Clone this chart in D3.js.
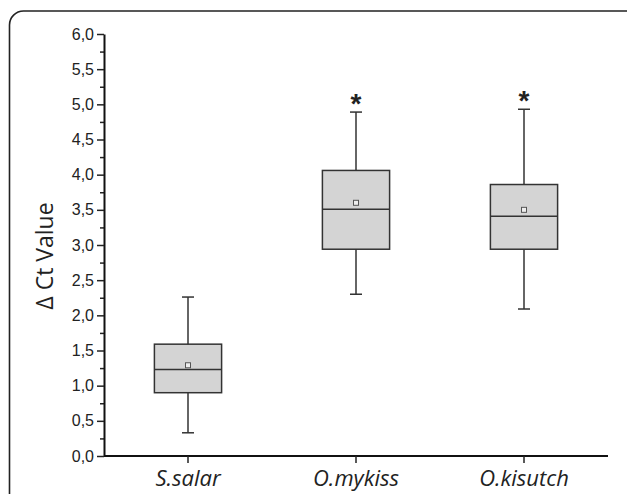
<!DOCTYPE html>
<html>
<head>
<meta charset="utf-8">
<script src="https://cdn.jsdelivr.net/npm/d3@7"></script>
<style>
  body { margin: 0; background: #fff; }
</style>
</head>
<body>
<svg width="627" height="494"></svg>
<script>
// data
var species  = ["S.salar", "O.mykiss", "O.kisutch"];
var whiskLo  = [0.33, 2.30, 2.09];
var q1       = [0.90, 2.94, 2.94];
var median   = [1.23, 3.51, 3.41];
var q3       = [1.59, 4.06, 3.86];
var whiskHi  = [2.26, 4.89, 4.93];
var means    = [1.29, 3.60, 3.50];
var signif   = [false, true, true];
var yTicks   = [0, 0.5, 1, 1.5, 2, 2.5, 3, 3.5, 4, 4.5, 5, 5.5, 6];

var boxes = species.map(function (s, i) {
  return { name: s, lo: whiskLo[i], q1: q1[i], med: median[i], q3: q3[i], hi: whiskHi[i], mean: means[i], star: signif[i] };
});

var svg = d3.select("svg");

// frame round the figure (bottom and right edge run off the picture)
svg.append("rect")
  .attr("x", 9.5).attr("y", 11)
  .attr("width", 640).attr("height", 520)
  .attr("rx", 14)
  .style("fill", "none")
  .style("stroke", "#222")
  .style("stroke-width", 1.6);

var plotL = 104, plotR = 608, plotT = 34, plotB = 456;

var xScale = d3.scaleBand().domain(species).range([plotL, plotR]).paddingInner(0.6).paddingOuter(0.3);
var yScale = d3.scaleLinear().domain([0, 6]).range([plotB, plotT]);

var fmt = function (d) { return d3.format(".1f")(d).replace(".", ","); };

// minor ticks
var yAxisMinor = d3.axisLeft(yScale).tickValues(d3.range(0.25, 6, 0.5)).tickSize(4).tickFormat("");
svg.append("g")
  .attr("transform", "translate(" + plotL + ",0)")
  .call(yAxisMinor)
  .call(function (g) { g.select(".domain").remove(); })
  .selectAll("line").style("stroke", "#222").style("stroke-width", 1.5);

var yAxis = svg.append("g")
  .attr("transform", "translate(" + plotL + ",0)")
  .call(d3.axisLeft(yScale).tickValues(yTicks).tickSize(7).tickSizeOuter(0).tickPadding(3).tickFormat(fmt));
yAxis.select(".domain").style("stroke", "#111").style("stroke-width", 2);
yAxis.selectAll("line").style("stroke", "#222").style("stroke-width", 1.5);
yAxis.selectAll("text")
  .style("font-family", "'Liberation Sans', Arial, sans-serif")
  .style("font-size", "16px")
  .style("fill", "#222");

var xAxis = svg.append("g")
  .attr("transform", "translate(0," + plotB + ")")
  .call(d3.axisBottom(xScale).tickSize(7).tickSizeOuter(0).tickPadding(7));
xAxis.select(".domain").attr("d", "M" + plotL + ",0H" + plotR).style("stroke", "#111").style("stroke-width", 2);
xAxis.selectAll("line").style("stroke", "#222").style("stroke-width", 1.5);
xAxis.selectAll("text")
  .style("font-family", "'Open Sans', sans-serif")
  .style("font-style", "italic")
  .style("font-size", "22px")
  .style("fill", "#222");

// y label
svg.append("text")
  .attr("text-anchor", "middle")
  .attr("transform", "translate(53,256)rotate(-90)")
  .style("font-family", "'Open Sans', sans-serif")
  .style("font-size", "23px")
  .style("fill", "#222")
  .text("\u0394 Ct Value");

// boxes
var bw = xScale.bandwidth();
var capW = 12;
var g = svg.append("g");
var box = g.selectAll("g.box").data(boxes).enter().append("g").attr("class", "box");

box.append("line")
  .attr("x1", function (d) { return xScale(d.name) + bw / 2; })
  .attr("x2", function (d) { return xScale(d.name) + bw / 2; })
  .attr("y1", function (d) { return yScale(d.hi); })
  .attr("y2", function (d) { return yScale(d.lo); })
  .style("stroke", "#333").style("stroke-width", 1.5);

["hi", "lo"].forEach(function (k) {
  box.append("line")
    .attr("x1", function (d) { return xScale(d.name) + bw / 2 - capW / 2; })
    .attr("x2", function (d) { return xScale(d.name) + bw / 2 + capW / 2; })
    .attr("y1", function (d) { return yScale(d[k]); })
    .attr("y2", function (d) { return yScale(d[k]); })
    .style("stroke", "#333").style("stroke-width", 1.5);
});

box.append("rect")
  .attr("x", function (d) { return xScale(d.name); })
  .attr("width", bw)
  .attr("y", function (d) { return yScale(d.q3); })
  .attr("height", function (d) { return yScale(d.q1) - yScale(d.q3); })
  .style("fill", "#d4d4d4").style("stroke", "#333").style("stroke-width", 1.5);

box.append("line")
  .attr("x1", function (d) { return xScale(d.name); })
  .attr("x2", function (d) { return xScale(d.name) + bw; })
  .attr("y1", function (d) { return yScale(d.med); })
  .attr("y2", function (d) { return yScale(d.med); })
  .style("stroke", "#333").style("stroke-width", 1.5);

box.append("rect")
  .attr("x", function (d) { return xScale(d.name) + bw / 2 - 2.5; })
  .attr("y", function (d) { return yScale(d.mean) - 2.5; })
  .attr("width", 5).attr("height", 5)
  .style("fill", "#eee").style("stroke", "#555").style("stroke-width", 1);

box.filter(function (d) { return d.star; })
  .append("text")
  .attr("x", function (d) { return xScale(d.name) + bw / 2; })
  .attr("y", function (d) { return yScale(d.hi) + 1; })
  .attr("text-anchor", "middle")
  .style("font-family", "'Liberation Sans', Arial, sans-serif")
  .style("font-size", "28px")
  .style("font-weight", "bold")
  .style("fill", "#222")
  .text("*");
</script>
</body>
</html>
